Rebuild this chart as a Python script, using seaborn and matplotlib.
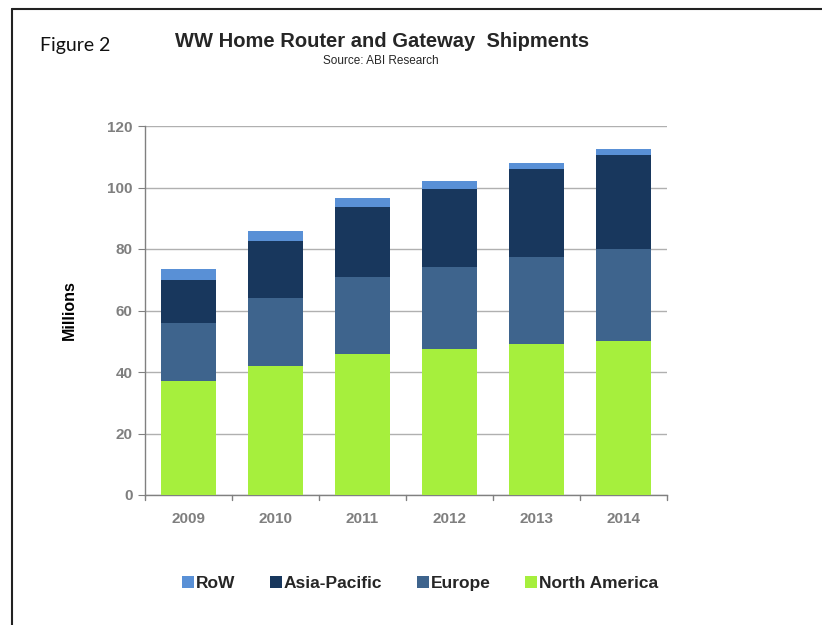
import pandas as pd
import seaborn as sns
import matplotlib.pyplot as plt
from matplotlib.patches import Patch
from matplotlib.lines import Line2D

years = ['2009', '2010', '2011', '2012', '2013', '2014']
north_america = [37, 42, 46, 47.5, 49, 50]
europe = [19, 22, 25, 26.5, 28.5, 30]
asia_pacific = [14, 18.5, 22.5, 25.5, 28.5, 30.5]
row = [3.5, 3.5, 3, 2.5, 2, 2]

series = ['North America', 'Europe', 'Asia-Pacific', 'RoW']
colors = {'North America': '#a6ef3d', 'Europe': '#3e648d',
          'Asia-Pacific': '#18375d', 'RoW': '#5990d6'}

df = pd.DataFrame({'year': years, 'North America': north_america,
                   'Europe': europe, 'Asia-Pacific': asia_pacific, 'RoW': row})
cum = df[series].cumsum(axis=1)
cum['year'] = df['year']

sns.set_style('white')
plt.rcParams['font.family'] = ['Liberation Sans', 'DejaVu Sans']

fig = plt.figure(figsize=(8.22, 6.25), dpi=100)
ax = fig.add_axes([0.1764, 0.208, 0.635, 0.5904])

# stacked bars: draw cumulative totals from the top layer down
for s in reversed(series):
    sns.barplot(data=cum, x='year', y=s, color=colors[s], width=0.64,
                saturation=1, linewidth=0, edgecolor='none', ax=ax, zorder=3)

ax.set_ylim(0, 120)
ax.set_xlim(-0.5, 5.5)
ax.set_yticks(range(0, 121, 20))
ax.yaxis.grid(True, color='#b0b0b0', linewidth=1, zorder=0)
ax.set_axisbelow(True)
ax.set_xlabel('')
ax.set_ylabel('Millions', fontsize=11.5, fontweight='bold', color='black', labelpad=22)
for sp in ['top', 'right']:
    ax.spines[sp].set_visible(False)
for sp in ['left', 'bottom']:
    ax.spines[sp].set_color('#808080')
    ax.spines[sp].set_linewidth(1)
ax.tick_params(axis='y', which='both', left=True, length=5, color='#808080',
               labelsize=11, labelcolor='#7f7f7f', pad=4)
ax.tick_params(axis='x', bottom=False, labelsize=11, labelcolor='#7f7f7f', pad=9)
for lab in ax.get_xticklabels() + ax.get_yticklabels():
    lab.set_fontweight('bold')
# category separators on the x axis
for x in [i - 0.5 for i in range(7)]:
    ax.plot([x, x], [0, -1.6], color='#808080', linewidth=1, clip_on=False, zorder=4)

handles = [Patch(facecolor=colors[s], edgecolor='none') for s in ['RoW', 'Asia-Pacific', 'Europe', 'North America']]
leg = fig.legend(handles, ['RoW', 'Asia-Pacific', 'Europe', 'North America'],
                 loc='center', bbox_to_anchor=(0.511, 0.067), ncol=4, frameon=False,
                 handlelength=0.7, handleheight=0.7, handletextpad=0.1, columnspacing=2.0,
                 prop={'size': 12.5, 'weight': 'bold'})

fig.text(0.465, 0.933, 'WW Home Router and Gateway  Shipments', ha='center', va='center',
         fontsize=14.5, fontweight='bold', family=['Liberation Sans Narrow', 'Liberation Sans'])
fig.text(0.463, 0.903, 'Source: ABI Research', ha='center', va='center', fontsize=8.5,
         family=['Liberation Sans Narrow', 'Liberation Sans'])
fig.text(0.049, 0.928, 'Figure 2', ha='left', va='center', fontsize=14, family=['Lato', 'DejaVu Sans'],
         color='#111111')

# frame lines at left and top
fig.add_artist(Line2D([0.0152, 0.0152], [0, 0.986], color='#222222', linewidth=1.5))
fig.add_artist(Line2D([0.0152, 1], [0.986, 0.986], color='#222222', linewidth=1.5))

fig.savefig('out.png', dpi=100)
